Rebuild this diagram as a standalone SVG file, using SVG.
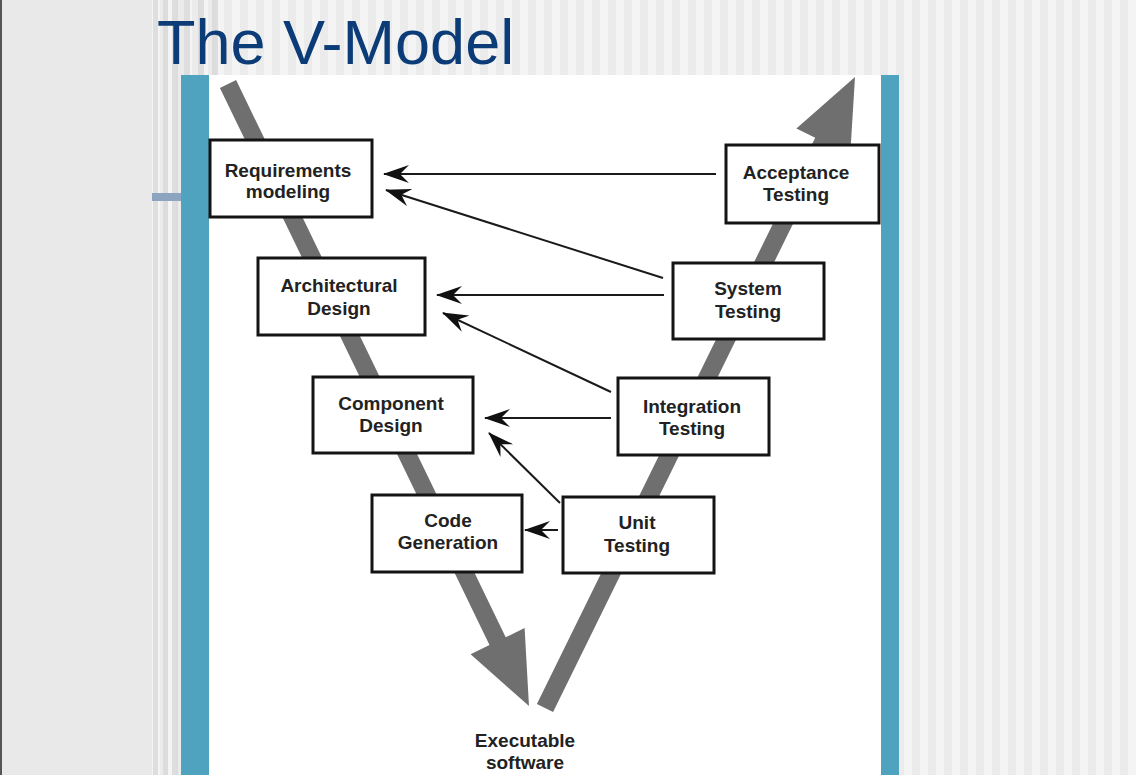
<svg xmlns="http://www.w3.org/2000/svg" width="1136" height="775" viewBox="0 0 1136 775">
  <defs>
    <pattern id="stripes" x="152" y="0" width="16" height="16" patternUnits="userSpaceOnUse">
      <rect x="0" y="0" width="8" height="16" fill="#f4f4f4"/>
      <rect x="8" y="0" width="8" height="16" fill="#ebebeb"/>
    </pattern>
    <marker id="barb" viewBox="0 0 26 18" refX="25" refY="9" markerWidth="26" markerHeight="18" markerUnits="userSpaceOnUse" orient="auto">
      <path d="M26,9 L0,0 L9,9 L0,18 Z" fill="#111"/>
    </marker>
    <style>
      .box rect { fill: #ffffff; stroke: #141414; stroke-width: 3; }
      .box text, .label { font-family: "Liberation Sans", Arial, sans-serif; font-weight: bold; font-size: 19px; fill: #222; text-anchor: middle; }
      .flow { fill: #6f6f6f; }
      .link { stroke: #1a1a1a; stroke-width: 2; fill: none; marker-end: url(#barb); }
    </style>
  </defs>

  <!-- slide background -->
  <rect x="0" y="0" width="1136" height="775" fill="#e9e9e9"/>
  <rect x="0" y="0" width="2" height="775" fill="#555555"/>
  <rect x="152" y="0" width="984" height="775" fill="url(#stripes)"/>
  <g fill="#d6d6d6" opacity="0.7">
    <rect x="153" y="0" width="5" height="775"/>
    <rect x="163" y="0" width="5" height="775"/>
    <rect x="172" y="0" width="6" height="775"/>
    <rect x="184" y="0" width="6" height="75"/>
    <rect x="198" y="0" width="6" height="75"/>
    <rect x="212" y="0" width="6" height="75"/>
  </g>

  <!-- title -->
  <text x="157" y="64" font-family="'Liberation Sans', Arial, sans-serif" font-size="63" fill="#0b3c77">The V-Model</text>

  <!-- slide accents -->
  <rect x="152" y="193" width="29" height="8" fill="#8ca4c0"/>
  <rect x="181" y="75" width="28" height="700" fill="#4fa3bf"/>
  <rect x="881" y="75" width="18" height="700" fill="#4fa3bf"/>
  <rect x="209" y="75" width="672" height="700" fill="#ffffff"/>

  <!-- the two legs of the V -->
  <g id="v-legs">
    <polygon class="flow" points="236.1,80.1 505.7,637.3 524.6,628.1 529,706 470.6,654.3 489.5,645.1 219.9,87.9"/>
    <polygon class="flow" points="553.1,712 831.4,145.7 850.2,154.9 855,77 796.4,128.5 815.2,137.7 536.9,704"/>
  </g>

  <!-- verification links -->
  <g id="connectors">
    <line class="link" x1="716" y1="174" x2="384" y2="174"/>
    <line class="link" x1="663" y1="278" x2="386" y2="190"/>
    <line class="link" x1="664" y1="295" x2="437" y2="295"/>
    <line class="link" x1="611" y1="392" x2="443" y2="313"/>
    <line class="link" x1="611" y1="418" x2="485" y2="418"/>
    <line class="link" x1="560" y1="503" x2="489" y2="433"/>
    <line class="link" x1="558" y1="530" x2="525" y2="530"/>
  </g>

  <g id="requirements" class="box">
    <rect x="210" y="140" width="162" height="77"/>
    <text x="288" y="176.5">Requirements</text>
    <text x="288" y="198">modeling</text>
  </g>
  <g id="architectural" class="box">
    <rect x="258" y="258" width="167" height="77"/>
    <text x="339" y="291.5">Architectural</text>
    <text x="339" y="314.5">Design</text>
  </g>
  <g id="component" class="box">
    <rect x="313" y="377" width="160" height="76"/>
    <text x="391" y="409.5">Component</text>
    <text x="391" y="431.5">Design</text>
  </g>
  <g id="code" class="box">
    <rect x="372" y="495" width="150" height="77"/>
    <text x="448" y="526.5">Code</text>
    <text x="448" y="548.5">Generation</text>
  </g>
  <g id="unit" class="box">
    <rect x="563" y="497" width="151" height="76"/>
    <text x="637" y="528.5">Unit</text>
    <text x="637" y="551.5">Testing</text>
  </g>
  <g id="integration" class="box">
    <rect x="618" y="378" width="151" height="77"/>
    <text x="692" y="412.5">Integration</text>
    <text x="692" y="434.5">Testing</text>
  </g>
  <g id="system" class="box">
    <rect x="673" y="263" width="151" height="76"/>
    <text x="748" y="294.5">System</text>
    <text x="748" y="317.5">Testing</text>
  </g>
  <g id="acceptance" class="box">
    <rect x="726" y="145" width="153" height="78"/>
    <text x="796" y="178.5">Acceptance</text>
    <text x="796" y="200.5">Testing</text>
  </g>

  <g id="executable">
    <text class="label" x="525" y="746.5">Executable</text>
    <text class="label" x="525" y="768.5">software</text>
  </g>
</svg>
